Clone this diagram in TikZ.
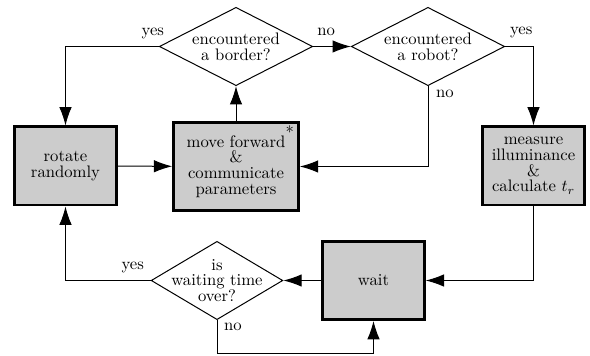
\documentclass[tikz,border=0pt]{standalone}
\usetikzlibrary{shapes.geometric,arrows.meta,positioning}
\tikzset
{
    actionbox/.style = {rectangle, draw=black, line width=1.6pt, fill=black!20, align=center, inner sep=2pt, minimum width=61pt, minimum height=47pt},
    decision/.style  = {diamond, draw=black, line width=0.6pt, inner sep=0pt, minimum width=92pt, minimum height=47pt},
    flow/.style      = {draw=black, line width=0.6pt, -{Latex[length=11pt,width=7.5pt]}},
    tag/.style       = {inner sep=0pt}
}

\begin{document}
\begin{tikzpicture}[x=0.6pt, y=-0.6pt, font=\fontsize{10}{9.4}\selectfont]
	\useasboundingbox (0,0) rectangle (590,356);
	% process boxes
	\node[actionbox] (rotate) at (65.5,166) {rotate\\randomly};
	\node[actionbox, minimum width=75pt, minimum height=52.5pt,
		label={[tag, anchor=north east, xshift=-3.4pt, yshift=-2.6pt]north east:$*$}]
		(move) at (236,166.5) {move forward\\\&\\communicate\\parameters};
	\node[actionbox] (measure) at (533.5,166) {measure\\illuminance\\\&\\calculate $t_r$};
	\node[actionbox] (wait) at (373.5,280.5) {wait};
	% decisions
	\node[decision, label={[align=center]center:encountered\\a border?}] (border) at (236,46.5) {};
	\node[decision, label={[align=center]center:encountered\\a robot?}] (robot) at (428,46.5) {};
	\node[decision, minimum width=79pt, label={[align=center]center:is\\waiting time\\over?}] (waiting) at (217,280.5) {};
	% connectors
	\draw[flow] (rotate) -- (move);
	\draw[flow] (move) -- (border);
	\draw[flow] (border.west) node[tag, xshift=-3.6pt, yshift=8pt] {yes} -| (rotate.north);
	\draw[flow] (border.east) node[tag, xshift=7.8pt, yshift=8.6pt] {no} -- (robot.west);
	\draw[flow] (robot.east) node[tag, xshift=9.6pt, yshift=8.6pt] {yes} -| (measure.north);
	\draw[flow] (robot.south) node[tag, xshift=10.2pt, yshift=-4.8pt] {no} |- (move.east);
	\draw[flow] (measure.south) |- (wait.east);
	\draw[flow] (wait) -- (waiting);
	\draw[flow] (waiting.west) node[tag, xshift=-10.8pt, yshift=8pt] {yes} -| (rotate.south);
	\draw[flow] (waiting.south) node[tag, xshift=9.6pt, yshift=-4.2pt] {no} -- ++(0,33) -| (wait.south);
\end{tikzpicture}
\end{document}
